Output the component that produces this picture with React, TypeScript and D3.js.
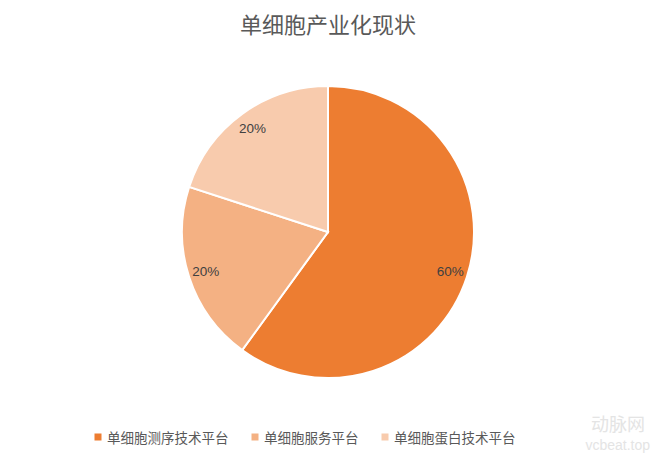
import React from "react";
import * as d3 from "d3";

const title = "单细胞产业化现状";
const categories = ["单细胞测序技术平台", "单细胞服务平台", "单细胞蛋白技术平台"];
const values = [60, 20, 20];
const colors = ["#ED7D31", "#F4B183", "#F8CBAD"];

const W = 660, H = 457;
const cx = 328, cy = 232, R = 146;
const font = "'Noto Sans CJK SC', 'Noto Sans', sans-serif";

export default function App() {
  const total = d3.sum(values);
  const pie = d3.pie<number>().sort(null).value((d) => d);
  const arcs = pie(values);
  const arc = d3.arc<d3.PieArcDatum<number>>().innerRadius(0).outerRadius(R);
  const labelArc = d3.arc<d3.PieArcDatum<number>>().innerRadius(R * 0.88).outerRadius(R * 0.88);
  const legendX = [98, 255, 385];
  return (
    <svg width={W} height={H} style={{ position: "absolute", left: 0, top: 0, background: "#fff" }}>
      <rect width={W} height={H} fill="#fff" />
      <text x={cx} y={23} textAnchor="middle" dominantBaseline="central" fontFamily={font} fontSize={22} fill="#595959">{title}</text>
      <g transform={`translate(${cx},${cy})`}>
        {arcs.map((a, i) => (
          <path key={i} d={arc(a) || ""} fill={colors[i]} stroke="#fff" strokeWidth={2} />
        ))}
        {arcs.map((a, i) => {
          const [x, y] = labelArc.centroid(a);
          return (
            <text key={"l" + i} x={x} y={y} textAnchor="middle" dominantBaseline="central" fontFamily="'Liberation Sans', sans-serif" fontSize={13.5} fill="#404040">
              {`${Math.round((values[i] / total) * 100)}%`}
            </text>
          );
        })}
      </g>
      {categories.map((c, i) => (
        <g key={c}>
          <rect x={legendX[i] - 3.5} y={433.5} width={7} height={7} fill={colors[i]} />
          <text x={legendX[i] + 9} y={437} dominantBaseline="central" fontFamily={font} fontSize={13.5} fill="#595959">{c}</text>
        </g>
      ))}
      <text x={618} y={431} textAnchor="middle" fontFamily={font} fontSize={18} fill="#e4e4e4">动脉网</text>
      <text x={650} y={450} textAnchor="end" fontFamily="'Liberation Sans', sans-serif" fontSize={14} fill="#e4e4e4">vcbeat.top</text>
    </svg>
  );
}
